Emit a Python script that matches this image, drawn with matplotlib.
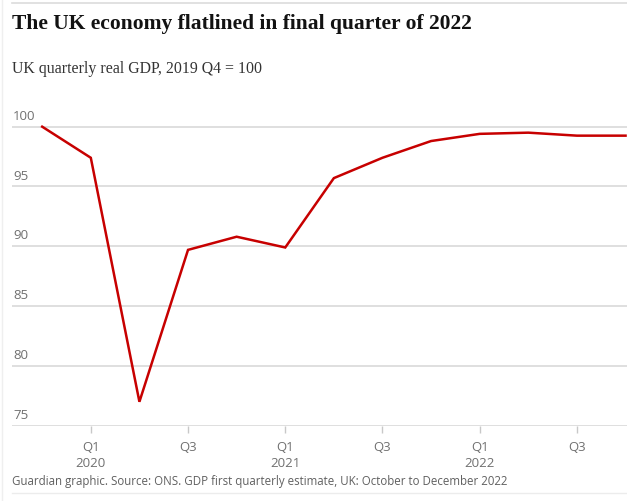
import matplotlib.pyplot as plt
from matplotlib.lines import Line2D
import matplotlib.transforms as mtransforms

# 데이터: 2019 Q4 ~ 2022 Q4 분기별 실질 GDP (2019 Q4 = 100)
quarters = ['2019 Q4', '2020 Q1', '2020 Q2', '2020 Q3', '2020 Q4',
            '2021 Q1', '2021 Q2', '2021 Q3', '2021 Q4',
            '2022 Q1', '2022 Q2', '2022 Q3', '2022 Q4']
gdp = [100.0, 97.4, 77.0, 89.7, 90.8, 89.9, 95.7, 97.4, 98.8,
       99.4, 99.5, 99.25, 99.25]

tick_pos = [1, 3, 5, 7, 9, 11]
tick_labels = ['Q1\n2020', 'Q3', 'Q1\n2021', 'Q3', 'Q1\n2022', 'Q3']
y_ticks = [75, 80, 85, 90, 95, 100]

title = 'The UK economy flatlined in final quarter of 2022'
subtitle = 'UK quarterly real GDP, 2019 Q4 = 100'
footer = 'Guardian graphic. Source: ONS. GDP first quarterly estimate, UK: October to December 2022'

W, H = 627, 502
fig = plt.figure(figsize=(W / 100, H / 100), dpi=100)

# 축 위치 (픽셀 기준)
left, right, top, bottom = 12, 627, 121.7, 426.7
ax = fig.add_axes([left / W, 1 - bottom / H, (right - left) / W, (bottom - top) / H])

x = list(range(len(quarters)))
ax.plot(x, gdp, color='#c70000', linewidth=1.8, solid_joinstyle='miter', clip_on=False, zorder=3)

ax.set_xlim(-0.621, 12.03)
ax.set_ylim(75, 100.5)

# 그리드
for v in y_ticks:
    ax.axhline(v, color='#dcdcdc', linewidth=1.3, zorder=1)

ax.set_yticks([])
ax.set_xticks(tick_pos)
ax.set_xticklabels(tick_labels, fontsize=9.5, color='#707070', family='Open Sans')
for lbl in ax.get_xticklabels():
    lbl.set_linespacing(1.3)
ax.tick_params(axis='x', length=5, width=1, color='#c8c8c8', pad=5)
for s in ax.spines.values():
    s.set_visible(False)

# y 라벨은 그리드선 위에
trans = mtransforms.blended_transform_factory(ax.transAxes, ax.transData)
for v in y_ticks:
    ax.annotate(str(v), xy=(0.002, v), xycoords=trans, xytext=(0, 3.5), textcoords='offset points',
                ha='left', va='bottom', fontsize=9.5, color='#707070', family='Open Sans')

# 제목, 부제, 출처
fig.text(12 / W, 1 - 24 / H, title, fontsize=15.5, fontweight='bold', family='Liberation Serif',
         color='#121212', va='center', ha='left')
fig.text(12 / W, 1 - 69 / H, subtitle, fontsize=11.4, family='Liberation Serif',
         color='#333333', va='center', ha='left')
fig.text(12 / W, 1 - 482 / H, footer, fontsize=8.3, family='Open Sans',
         color='#606060', va='center', ha='left')

# 테두리 선
fig.add_artist(Line2D([12 / W, 1], [1 - 3.5 / H, 1 - 3.5 / H], color='#dcdcdc', linewidth=1.2))
fig.add_artist(Line2D([12 / W, 1], [1 - 494 / H, 1 - 494 / H], color='#ececec', linewidth=1.0))
fig.add_artist(Line2D([2 / W, 2 / W], [0, 1], color='#efefef', linewidth=1.0))

fig.savefig('out.png', dpi=100)
